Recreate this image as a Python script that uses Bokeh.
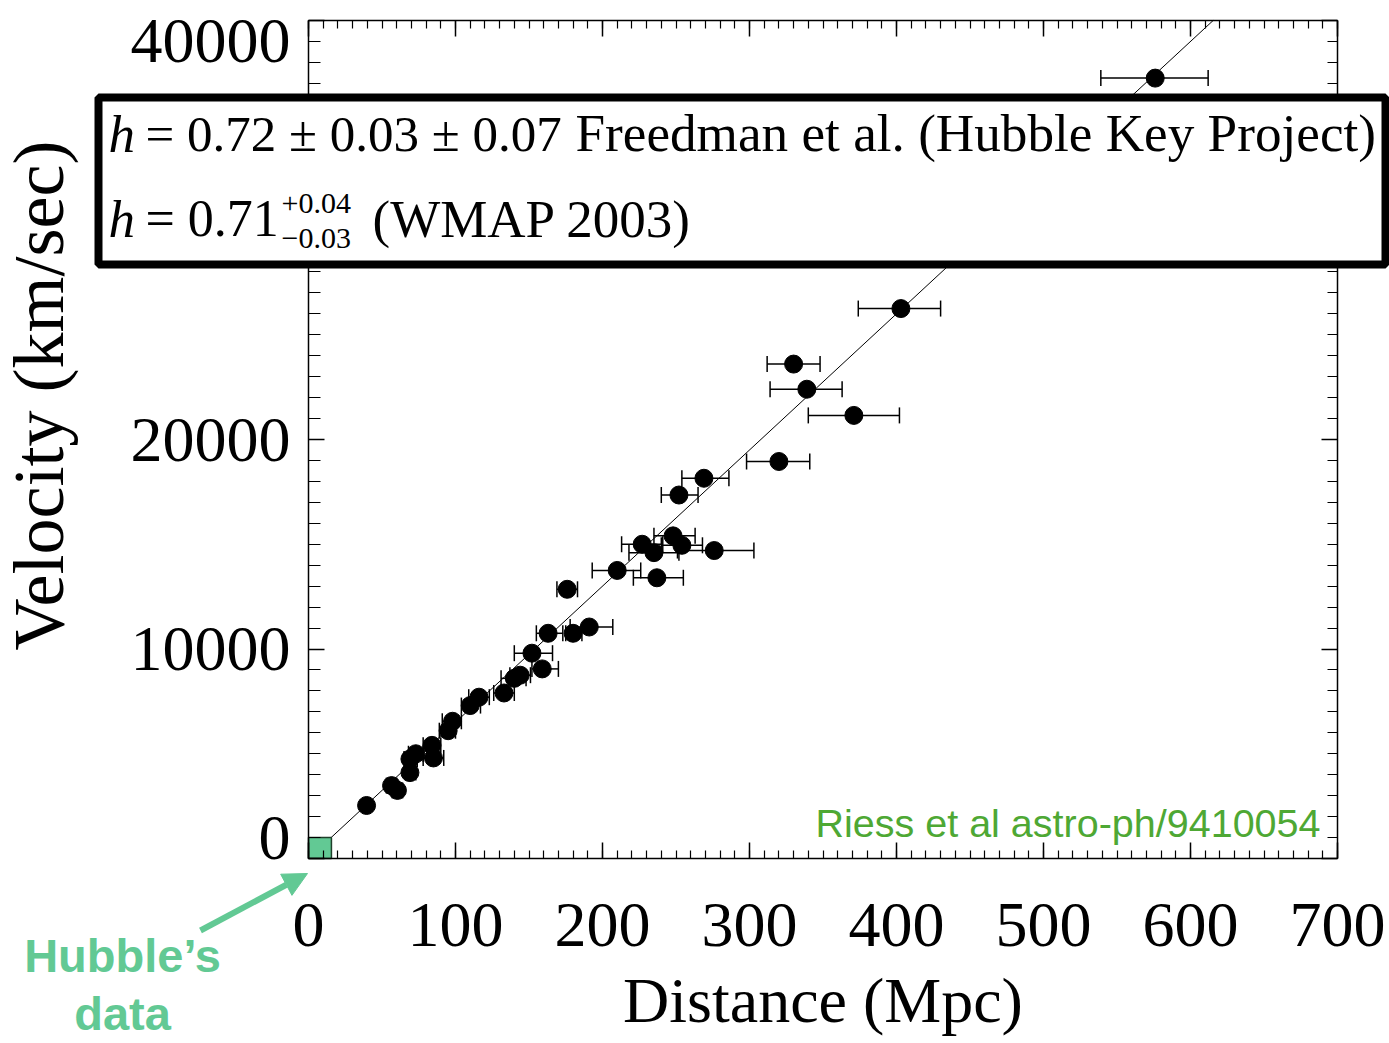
import math
from bokeh.plotting import figure
from bokeh.models import (ColumnDataSource, Whisker, TeeHead, LinearAxis, SingleIntervalTicker,
                          FixedTicker, Range1d, Label, BoxAnnotation, Arrow, NormalHead)
from bokeh.embed import file_html
from bokeh.resources import INLINE

# ---------------- data ----------------
distance = [576, 403, 330, 339, 371, 320, 269, 252, 248, 227, 235, 254, 276, 210, 237,
            176, 191, 163, 180, 152, 159, 140, 144, 133, 116, 110, 98, 95, 85, 84,
            73, 69, 69, 56.5, 60.5, 39.5]
velocity = [37250, 26250, 23600, 22400, 21150, 18950, 18150, 17350, 15400, 15000, 14600,
            14950, 14700, 13750, 13400, 12850, 11050, 10750, 10750, 9800, 9050, 8600,
            8750, 7900, 7700, 7300, 6550, 6100, 4800, 5400, 5000, 4750, 4100, 3480,
            3250, 2530]
dist_lo = [539, 374, 312, 314, 340, 298, 254, 240, 235, 213, 218, 240, 251, 193, 221,
           169, 178, 155, 175, 140, 152, 131, 137, 126, 109, 104, 91, 89, 78, 78,
           68, 65, 66, 53, 57, 37]
dist_hi = [612, 430, 348, 363, 402, 341, 286, 265, 263, 241, 252, 268, 303, 226, 255,
           183, 207, 173, 186, 166, 170, 148, 151, 140, 123, 117, 104, 100, 92, 90,
           78, 74, 73, 60, 64, 42]
fit_distance = [0, 615.4]
fit_velocity = [0, 40000]          # H0 = 65 km/s/Mpc
hubble_box_distance = [0, 15.6]
hubble_box_velocity = [0, 1000]
x_bounds = (0, 700)
y_bounds = (0, 40000)
x_tick_step = 100
y_tick_step = 10000
y_inner_labels = [10000, 20000, 30000]

# ---------------- layout ----------------
W, H = 1389, 1043
PL, PR, PT, PB = 308, 1337, 20, 858      # pixel positions of the data box
sx = (PR - PL) / (x_bounds[1] - x_bounds[0])
sy = (PB - PT) / (y_bounds[1] - y_bounds[0])

def dx(px):   # canvas px -> data x
    return x_bounds[0] + (px - PL) / sx

def dy(py):   # canvas px -> data y
    return y_bounds[0] + (PB - py) / sy

SERIF = "Liberation Serif"
SANS = "Liberation Sans"
GREEN = "#62c994"
DGREEN = "#4ea834"

p = figure(width=W, height=H, x_range=Range1d(dx(0), dx(W)), y_range=Range1d(dy(H), dy(0)),
           output_backend="svg", toolbar_location=None,
           x_axis_location=None, y_axis_location=None,
           min_border=0, min_border_left=0, min_border_right=0,
           min_border_top=0, min_border_bottom=0)
p.title.visible = False
p.grid.visible = False
p.outline_line_color = None
p.background_fill_color = "white"
p.border_fill_color = "white"

# the end labels of the original y axis sit slightly inside the box
LO_SHIFT, HI_SHIFT = -21, 20          # px (down is +)
p.extra_y_ranges = {
    "lab_lo": Range1d(dy(H) + LO_SHIFT / sy, dy(0) + LO_SHIFT / sy),
    "lab_hi": Range1d(dy(H) + HI_SHIFT / sy, dy(0) + HI_SHIFT / sy),
}

xt = SingleIntervalTicker(interval=x_tick_step, num_minor_ticks=10)
yt = SingleIntervalTicker(interval=y_tick_step, num_minor_ticks=10)

def make_axis(ticker, loc, bounds, labels=True, tin=16, tmin=9, lines=True, **kw):
    ax = LinearAxis(ticker=ticker, fixed_location=loc, bounds=bounds, **kw)
    if lines:
        ax.axis_line_color = "black"
        ax.axis_line_width = 1.5
        ax.major_tick_line_color = "black"
        ax.minor_tick_line_color = "black"
        ax.major_tick_line_width = 1.5
        ax.minor_tick_line_width = 1.2
        ax.major_tick_in = tin
        ax.major_tick_out = 0
        ax.minor_tick_in = tmin
        ax.minor_tick_out = 0
    else:
        ax.axis_line_color = None
        ax.major_tick_line_color = None
        ax.minor_tick_line_color = None
        ax.major_tick_in = 0
        ax.major_tick_out = 0
    if labels:
        ax.major_label_text_font = SERIF
        ax.major_label_text_font_size = "64px"
        ax.major_label_text_color = "black"
    else:
        ax.major_label_text_color = None
    return ax

# bottom axis
xa = make_axis(xt, y_bounds[0], x_bounds, tin=16, tmin=8)
xa.major_label_standoff = 45
xa.axis_label = "Distance (Mpc)"
xa.axis_label_text_font = SERIF
xa.axis_label_text_font_size = "64px"
xa.axis_label_text_font_style = "normal"
xa.axis_label_text_color = "black"
xa.axis_label_standoff = 16
p.add_layout(xa, "below")

# left axis: ticks, then labels
ya = make_axis(yt, x_bounds[0], y_bounds, labels=False, tin=16, tmin=12)
p.add_layout(ya, "left")
ya_mid = make_axis(FixedTicker(ticks=y_inner_labels, minor_ticks=[]), x_bounds[0], y_bounds,
                   lines=False)
ya_mid.major_label_standoff = 18
p.add_layout(ya_mid, "left")
ya_lo = make_axis(FixedTicker(ticks=[y_bounds[0]], minor_ticks=[]), x_bounds[0],
                  (y_bounds[0] - 1000, y_bounds[1] + 1000), lines=False, y_range_name="lab_lo")
ya_lo.major_label_standoff = 18
p.add_layout(ya_lo, "left")
ya_hi = make_axis(FixedTicker(ticks=[y_bounds[1]], minor_ticks=[]), x_bounds[0],
                  (y_bounds[0] - 1000, y_bounds[1] + 1000), lines=False, y_range_name="lab_hi")
ya_hi.major_label_standoff = 18
p.add_layout(ya_hi, "left")

ra = make_axis(yt, x_bounds[1], y_bounds, labels=False, tin=16, tmin=10)
p.add_layout(ra, "right")
ta = make_axis(xt, y_bounds[1], x_bounds, labels=False, tin=16, tmin=8)
p.add_layout(ta, "above")

# y-axis title
p.add_layout(Label(x=dx(38), y=dy(395), text="Velocity (km/sec)", angle=math.pi / 2,
                   text_font=SERIF, text_font_size="72px", text_color="black",
                   text_align="center", text_baseline="middle"))

# fit line
p.line(fit_distance, fit_velocity, line_color="black", line_width=1)

# error bars + points
src = ColumnDataSource(dict(x=distance, y=velocity, lo=dist_lo, hi=dist_hi))
wh = Whisker(base="y", lower="lo", upper="hi", dimension="width", source=src,
             line_color="black", line_width=1.5,
             upper_head=TeeHead(size=16, line_color="black", line_width=1.5),
             lower_head=TeeHead(size=16, line_color="black", line_width=1.5))
p.add_layout(wh)
p.scatter("x", "y", source=src, size=18, marker="circle", fill_color="black", line_color="black")

# Hubble's data square
p.quad(left=[hubble_box_distance[0]], right=[hubble_box_distance[1]],
       bottom=[hubble_box_velocity[0]], top=[hubble_box_velocity[1]],
       fill_color=GREEN, line_color="#1f3f2a", line_width=1.5)

# Riess credit
p.add_layout(Label(x=dx(1320), y=dy(822), text="Riess et al astro-ph/9410054",
                   text_font=SANS, text_font_size="39.5px", text_color=DGREEN,
                   text_align="right", text_baseline="middle"))

# Hubble's data note + arrow
p.add_layout(Arrow(x_start=dx(200), y_start=dy(930), x_end=dx(307), y_end=dy(873),
                   line_color=GREEN, line_width=6,
                   end=NormalHead(size=24, fill_color=GREEN, line_color=GREEN)))
p.add_layout(Label(x=dx(122), y=dy(955), text="Hubble’s", text_font=SANS,
                   text_font_style="bold", text_font_size="47px", text_color=GREEN,
                   text_align="center", text_baseline="middle"))
p.add_layout(Label(x=dx(122), y=dy(1013), text="data", text_font=SANS,
                   text_font_style="bold", text_font_size="47px", text_color=GREEN,
                   text_align="center", text_baseline="middle"))

# boxed equations
p.add_layout(BoxAnnotation(left=dx(98), right=dx(1385), top=dy(97), bottom=dy(264),
                           fill_color="white", fill_alpha=1.0,
                           line_color="black", line_alpha=1.0, line_width=8,
                           level="annotation"))

def lab(px, py, text, size, style="normal", align="left"):
    p.add_layout(Label(x=dx(px), y=dy(py), text=text, text_font=SERIF,
                       text_font_size=size, text_font_style=style, text_color="black",
                       text_align=align, text_baseline="middle", level="overlay"))

lab(108, 133, "h", "53px", "italic")
lab(145, 133, "= 0.72 ± 0.03 ± 0.07", "51px")
lab(575, 133, "Freedman et al. (Hubble Key Project)", "53.2px")
lab(108, 218, "h", "53px", "italic")
lab(145, 218, "= 0.71", "52px")
lab(281, 203, "+0.04", "30px")
lab(281, 238, "−0.03", "30px")
lab(372, 218, "(WMAP 2003)", "53px")

open("out.html", "w").write(file_html(p, INLINE))
